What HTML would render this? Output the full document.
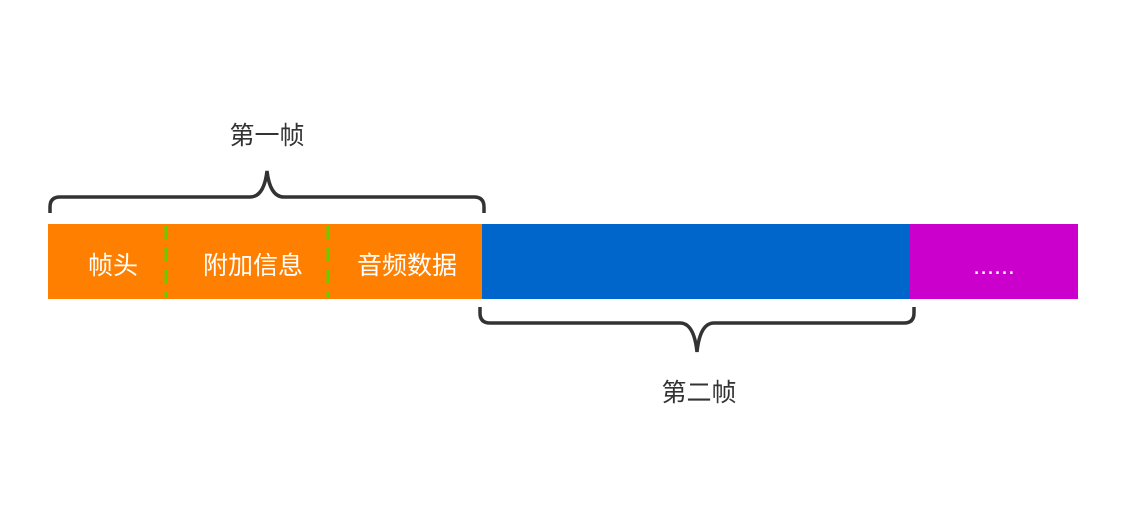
<!DOCTYPE html>
<html><head><meta charset="utf-8"><style>
body{margin:0;width:1126px;height:521px;background:#fff;overflow:hidden}
svg text{font-family:"Liberation Sans","Noto Sans CJK SC",sans-serif}
</style></head><body>
<svg width="1126" height="521" xmlns="http://www.w3.org/2000/svg">
<rect x="48" y="224" width="434" height="75" fill="#ff8000"/>
<rect x="482" y="224" width="428" height="75" fill="#0066cc"/>
<rect x="910" y="224" width="168" height="75" fill="#cc00cc"/>
<line x1="166" y1="226" x2="166" y2="297" stroke="#66cc00" stroke-width="3" stroke-dasharray="14,8"/>
<line x1="328" y1="226" x2="328" y2="297" stroke="#66cc00" stroke-width="3" stroke-dasharray="14,8"/>
<path d="M50,213 V207 Q50,197 60,197 H250 Q264,197 267,171 Q270,197 284,197 H474 Q484,197 484,207 V213" fill="none" stroke="#333" stroke-width="3.5"/>
<path d="M480,307 V313 Q480,323 490,323 H680 Q694,323 697,352 Q700,323 714,323 H904 Q914,323 914,313 V307" fill="none" stroke="#333" stroke-width="3.5"/>
<g fill="#fff" font-size="25" text-anchor="middle">
<text x="113" y="274">帧头</text>
<text x="253" y="274">附加信息</text>
<text x="407" y="274">音频数据</text>
<text x="994" y="274">......</text>
</g>
<g fill="#333" font-size="25" text-anchor="middle">
<text x="267" y="144">第一帧</text>
<text x="699" y="401">第二帧</text>
</g>
</svg>
</body></html>
